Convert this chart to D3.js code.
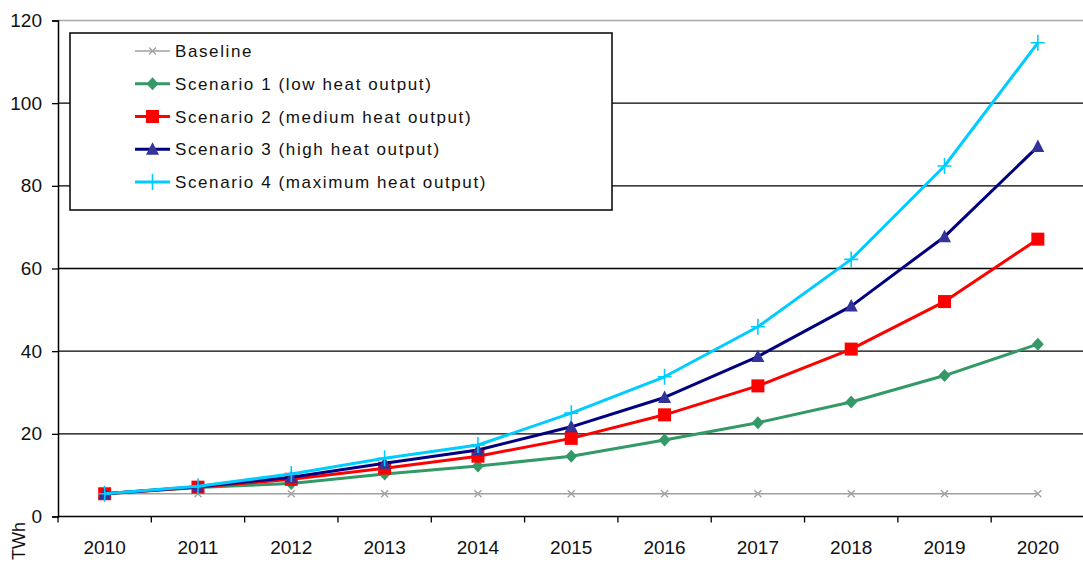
<!DOCTYPE html>
<html>
<head>
<meta charset="utf-8">
<script src="https://cdn.jsdelivr.net/npm/d3@7/dist/d3.min.js"></script>
<style>
  html, body { margin: 0; padding: 0; background: #fff; }
  svg { display: block; }
  text { font-family: "Liberation Sans", Arial, sans-serif; fill: #111; }
</style>
</head>
<body>
<svg id="chart" width="1083" height="564"></svg>
<script>
// Heat output projections, TWh per year
const years = ["2010", "2011", "2012", "2013", "2014", "2015", "2016", "2017", "2018", "2019", "2020"];
const baseline  = [5.5, 5.5, 5.5, 5.5, 5.5, 5.5, 5.5, 5.5, 5.5, 5.5, 5.5];
const scenario1 = [5.5, 7.0, 8.0, 10.3, 12.2, 14.6, 18.5, 22.7, 27.7, 34.1, 41.7];
const scenario2 = [5.5, 7.1, 9.0, 11.7, 14.6, 18.9, 24.6, 31.6, 40.5, 52.0, 67.1];
const scenario3 = [5.5, 7.2, 9.5, 12.9, 16.1, 21.7, 28.8, 38.7, 50.9, 67.7, 89.5];
const scenario4 = [5.5, 7.3, 10.3, 14.1, 17.3, 25.0, 33.8, 45.9, 62.2, 84.8, 114.6];
const seriesNames = [
  "Baseline",
  "Scenario 1 (low heat output)",
  "Scenario 2 (medium heat output)",
  "Scenario 3 (high heat output)",
  "Scenario 4 (maximum heat output)"
];
const yTicks = [0, 20, 40, 60, 80, 100, 120];
const unitLabel = "TWh";

const styles = [
  { line: "#a0a0a0", fill: "#a0a0a0", width: 1.5, marker: "cross" },
  { line: "#339966", fill: "#339966", width: 3,   marker: "diamond" },
  { line: "#ff0000", fill: "#ff0000", width: 3,   marker: "square" },
  { line: "#000080", fill: "#333399", width: 3,   marker: "triangle" },
  { line: "#00ccff", fill: "#00ccff", width: 3,   marker: "plus" }
];
const values = [baseline, scenario1, scenario2, scenario3, scenario4];
const series = seriesNames.map((name, i) => ({
  name, style: styles[i],
  points: years.map((yr, j) => ({ year: yr, value: values[i][j] }))
}));

const svg = d3.select("#chart");
const plotLeft = 58, plotRight = 1084.5, plotTop = 20.5, plotBottom = 516.5;

const x = d3.scaleBand().domain(years).range([plotLeft, plotRight]);
const y = d3.scaleLinear().domain([0, 120]).range([plotBottom, plotTop]);
const cx = d => x(d.year) + x.bandwidth() / 2;

// plot frame top edge
svg.append("line")
  .attr("x1", plotLeft).attr("x2", 1083).attr("y1", plotTop).attr("y2", plotTop)
  .attr("stroke", "#a8a8a8").attr("stroke-width", 1.5);

// horizontal gridlines
svg.append("g")
  .selectAll("line")
  .data(yTicks.filter(t => t > 0 && t < 120))
  .join("line")
  .attr("x1", plotLeft).attr("x2", 1083)
  .attr("y1", d => y(d)).attr("y2", d => y(d))
  .attr("stroke", "#000").attr("stroke-width", 1.3);

// y axis
const yAxis = svg.append("g")
  .attr("transform", `translate(${plotLeft},0)`)
  .call(d3.axisLeft(y).tickValues(yTicks).tickSize(6).tickPadding(10));
yAxis.select(".domain").attr("stroke", "#000").attr("stroke-width", 1.5);
yAxis.selectAll(".tick line").attr("stroke", "#000").attr("stroke-width", 1.3);
yAxis.selectAll(".tick text")
  .style("font-family", "'Liberation Sans', Arial, sans-serif")
  .style("font-size", "19px").attr("fill", "#222");

// x axis with ticks between categories
const xAxisG = svg.append("g").attr("transform", `translate(0,${plotBottom})`);
xAxisG.append("line")
  .attr("x1", plotLeft).attr("x2", 1083).attr("y1", 0).attr("y2", 0)
  .attr("stroke", "#000").attr("stroke-width", 1.5);
xAxisG.selectAll("line.tk")
  .data(years)
  .join("line").attr("class", "tk")
  .attr("x1", d => x(d)).attr("x2", d => x(d))
  .attr("y1", 0).attr("y2", 6)
  .attr("stroke", "#000").attr("stroke-width", 1.3);
xAxisG.selectAll("text")
  .data(years)
  .join("text")
  .attr("x", d => x(d) + x.bandwidth() / 2)
  .attr("y", 37.5)
  .attr("text-anchor", "middle")
  .style("font-size", "19px").attr("fill", "#222")
  .text(d => d);

// unit label at the lower left corner
svg.append("text")
  .attr("transform", "translate(25,522) rotate(-90)")
  .attr("text-anchor", "end")
  .style("font-size", "18px").attr("fill", "#222")
  .text(unitLabel);

// marker shapes
function drawMarker(g, kind, color) {
  if (kind === "cross") {
    g.append("path").attr("d", "M-3.5,-3.5L3.5,3.5M-3.5,3.5L3.5,-3.5")
      .attr("stroke", color).attr("stroke-width", 1.3).attr("fill", "none");
  } else if (kind === "diamond") {
    g.append("path").attr("d", "M0,-6.5L6,0L0,6.5L-6,0Z").attr("fill", color);
  } else if (kind === "square") {
    g.append("rect").attr("x", -6.5).attr("y", -6.5).attr("width", 13).attr("height", 13).attr("fill", color);
  } else if (kind === "triangle") {
    g.append("path").attr("d", "M0,-7L6.5,5.5L-6.5,5.5Z").attr("fill", color);
  } else if (kind === "plus") {
    g.append("path").attr("d", "M-7,0L7,0M0,-8L0,8")
      .attr("stroke", color).attr("stroke-width", 1.6).attr("fill", "none");
  }
}

// series lines and markers
const line = d3.line().x(cx).y(d => y(d.value));
series.forEach(s => {
  const g = svg.append("g");
  g.append("path")
    .datum(s.points)
    .attr("d", line)
    .attr("fill", "none")
    .attr("stroke", s.style.line)
    .attr("stroke-width", s.style.width)
    .attr("stroke-linejoin", "round");
  g.selectAll("g.mk")
    .data(s.points)
    .join("g").attr("class", "mk")
    .attr("transform", d => `translate(${cx(d)},${y(d.value)})`)
    .each(function () { drawMarker(d3.select(this), s.style.marker, s.style.fill); });
});

// legend
const legend = svg.append("g");
legend.append("rect")
  .attr("x", 70).attr("y", 33).attr("width", 542).attr("height", 177)
  .attr("fill", "#fff").attr("stroke", "#000").attr("stroke-width", 1.5);
series.forEach((s, i) => {
  const ry = 51 + i * 32.75;
  const row = legend.append("g");
  row.append("line")
    .attr("x1", 135).attr("x2", 170).attr("y1", ry).attr("y2", ry)
    .attr("stroke", s.style.line).attr("stroke-width", s.style.width);
  const m = row.append("g").attr("transform", `translate(152.5,${ry})`);
  drawMarker(m, s.style.marker, s.style.fill);
  row.append("text")
    .attr("x", 175).attr("y", ry + 6)
    .style("font-size", "17px")
    .style("letter-spacing", "1.6px")
    .attr("fill", "#111")
    .text(s.name);
});
</script>
</body>
</html>
